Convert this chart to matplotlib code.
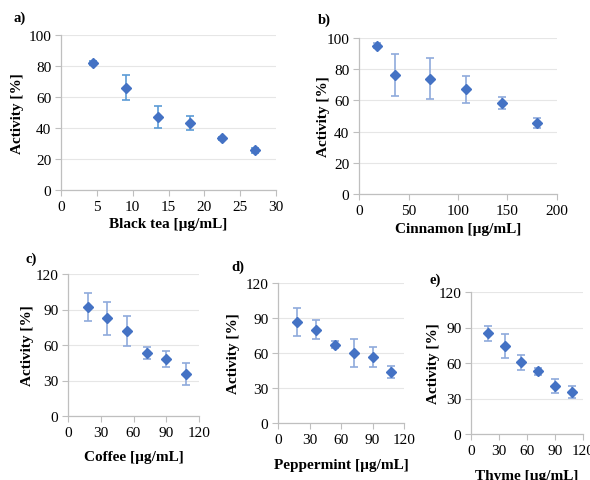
import matplotlib
matplotlib.use("Agg")
import matplotlib.pyplot as plt
from matplotlib import font_manager

names = {f.name for f in font_manager.fontManager.ttflist}
serif = [n for n in ['Liberation Serif', 'Times New Roman', 'DejaVu Serif'] if n in names]
plt.rcParams['font.family'] = 'serif'
plt.rcParams['font.serif'] = serif + ['DejaVu Serif']

W, H = 590, 481

# data
a_x = [4.5, 9, 13.5, 18, 22.5, 27]
a_y = [82, 66, 47, 43.5, 33.5, 25.5]
a_e = [1.5, 8, 7, 4.5, 1, 1.5]

b_x = [18, 36, 72, 108, 144, 180]
b_y = [95, 76.5, 74, 67, 58.5, 45.5]
b_e = [1.5, 13.5, 13, 8.5, 4, 3.5]

c_x = [18, 36, 54, 72, 90, 108]
c_y = [92, 82.5, 72, 53, 48, 35.5]
c_e = [12, 14, 12.5, 5, 7, 9.5]

d_x = [18, 36, 54, 72, 90, 108]
d_y = [87, 80, 67, 60, 56.5, 44]
d_e = [12, 8, 3, 12, 8.5, 5]

e_x = [18, 36, 54, 72, 90, 108]
e_y = [85, 74.5, 60.5, 53, 40.5, 35.5]
e_e = [6.5, 10, 6.5, 3, 6, 5]

panels = [
    dict(x=a_x, y=a_y, e=a_e, box=(61, 36, 276, 191), xlim=(0, 30), xt=range(0, 31, 5),
         ylim=(0, 100), yt=range(0, 101, 20), xlabel='Black tea [µg/mL]', tag='a)',
         tagpos=(14, 18), ylpos=18, xlpos=225, ecol='#5B9BD5'),
    dict(x=b_x, y=b_y, e=b_e, box=(359, 39, 557, 195), xlim=(0, 200), xt=range(0, 201, 50),
         ylim=(0, 100), yt=range(0, 101, 20), xlabel='Cinnamon [µg/mL]', tag='b)',
         tagpos=(318, 20), ylpos=323, xlpos=230, ecol='#8FAADC'),
    dict(x=c_x, y=c_y, e=c_e, box=(68, 275, 199, 417), xlim=(0, 120), xt=range(0, 121, 30),
         ylim=(0, 120), yt=range(0, 121, 30), xlabel='Coffee [µg/mL]', tag='c)',
         tagpos=(25, 259), ylpos=27, xlpos=458, ecol='#8FAADC'),
    dict(x=d_x, y=d_y, e=d_e, box=(278, 284, 404, 424), xlim=(0, 120), xt=range(0, 121, 30),
         ylim=(0, 120), yt=range(0, 121, 30), xlabel='Peppermint [µg/mL]', tag='d)',
         tagpos=(231, 267), ylpos=234, xlpos=466, ecol='#8FAADC'),
    dict(x=e_x, y=e_y, e=e_e, box=(471, 293, 583, 435), xlim=(0, 120), xt=range(0, 121, 30),
         ylim=(0, 120), yt=range(0, 121, 30), xlabel='Thyme [µg/mL]', tag='e)',
         tagpos=(429, 280), ylpos=434, xlpos=477, ecol='#8FAADC'),
]

fig = plt.figure(figsize=(W / 100, H / 100), dpi=100)

for p in panels:
    l, t, r, b = p['box']
    ax = fig.add_axes([l / W, 1 - b / H, (r - l) / W, (b - t) / H])
    ax.errorbar(p['x'], p['y'], yerr=p['e'], fmt='D', color='#4472C4', ms=5,
                ecolor=p['ecol'], elinewidth=1.2, capsize=3, capthick=1.2, zorder=3)
    ax.set_xlim(*p['xlim'])
    ax.set_ylim(*p['ylim'])
    ax.set_xticks(list(p['xt']))
    ax.set_yticks(list(p['yt']))
    ax.grid(axis='y', color='#E6E6E6', lw=0.8)
    ax.set_axisbelow(True)
    for s in ['top', 'right']:
        ax.spines[s].set_visible(False)
    for s in ['left', 'bottom']:
        ax.spines[s].set_color('#BFBFBF')
        ax.spines[s].set_linewidth(0.9)
    ax.tick_params(axis='x', length=4, color='#BFBFBF', labelsize=11, pad=3)
    ax.tick_params(axis='y', length=4, color='#BFBFBF', labelsize=11, pad=3)
    cx = (l + r) / 2
    fig.text(cx / W, 1 - p['xlpos'] / H, p['xlabel'], ha='center', va='center',
             fontsize=11, fontweight='bold')
    fig.text(p['ylpos'] / W, 1 - ((t + b) / 2) / H, 'Activity [%]', ha='center',
             va='center', rotation=90, fontsize=11, fontweight='bold')
    fig.text(p['tagpos'][0] / W, 1 - p['tagpos'][1] / H, p['tag'], ha='left',
             va='center', fontsize=10.5, fontweight='bold')

fig.savefig('out.png', dpi=100, facecolor='white')
